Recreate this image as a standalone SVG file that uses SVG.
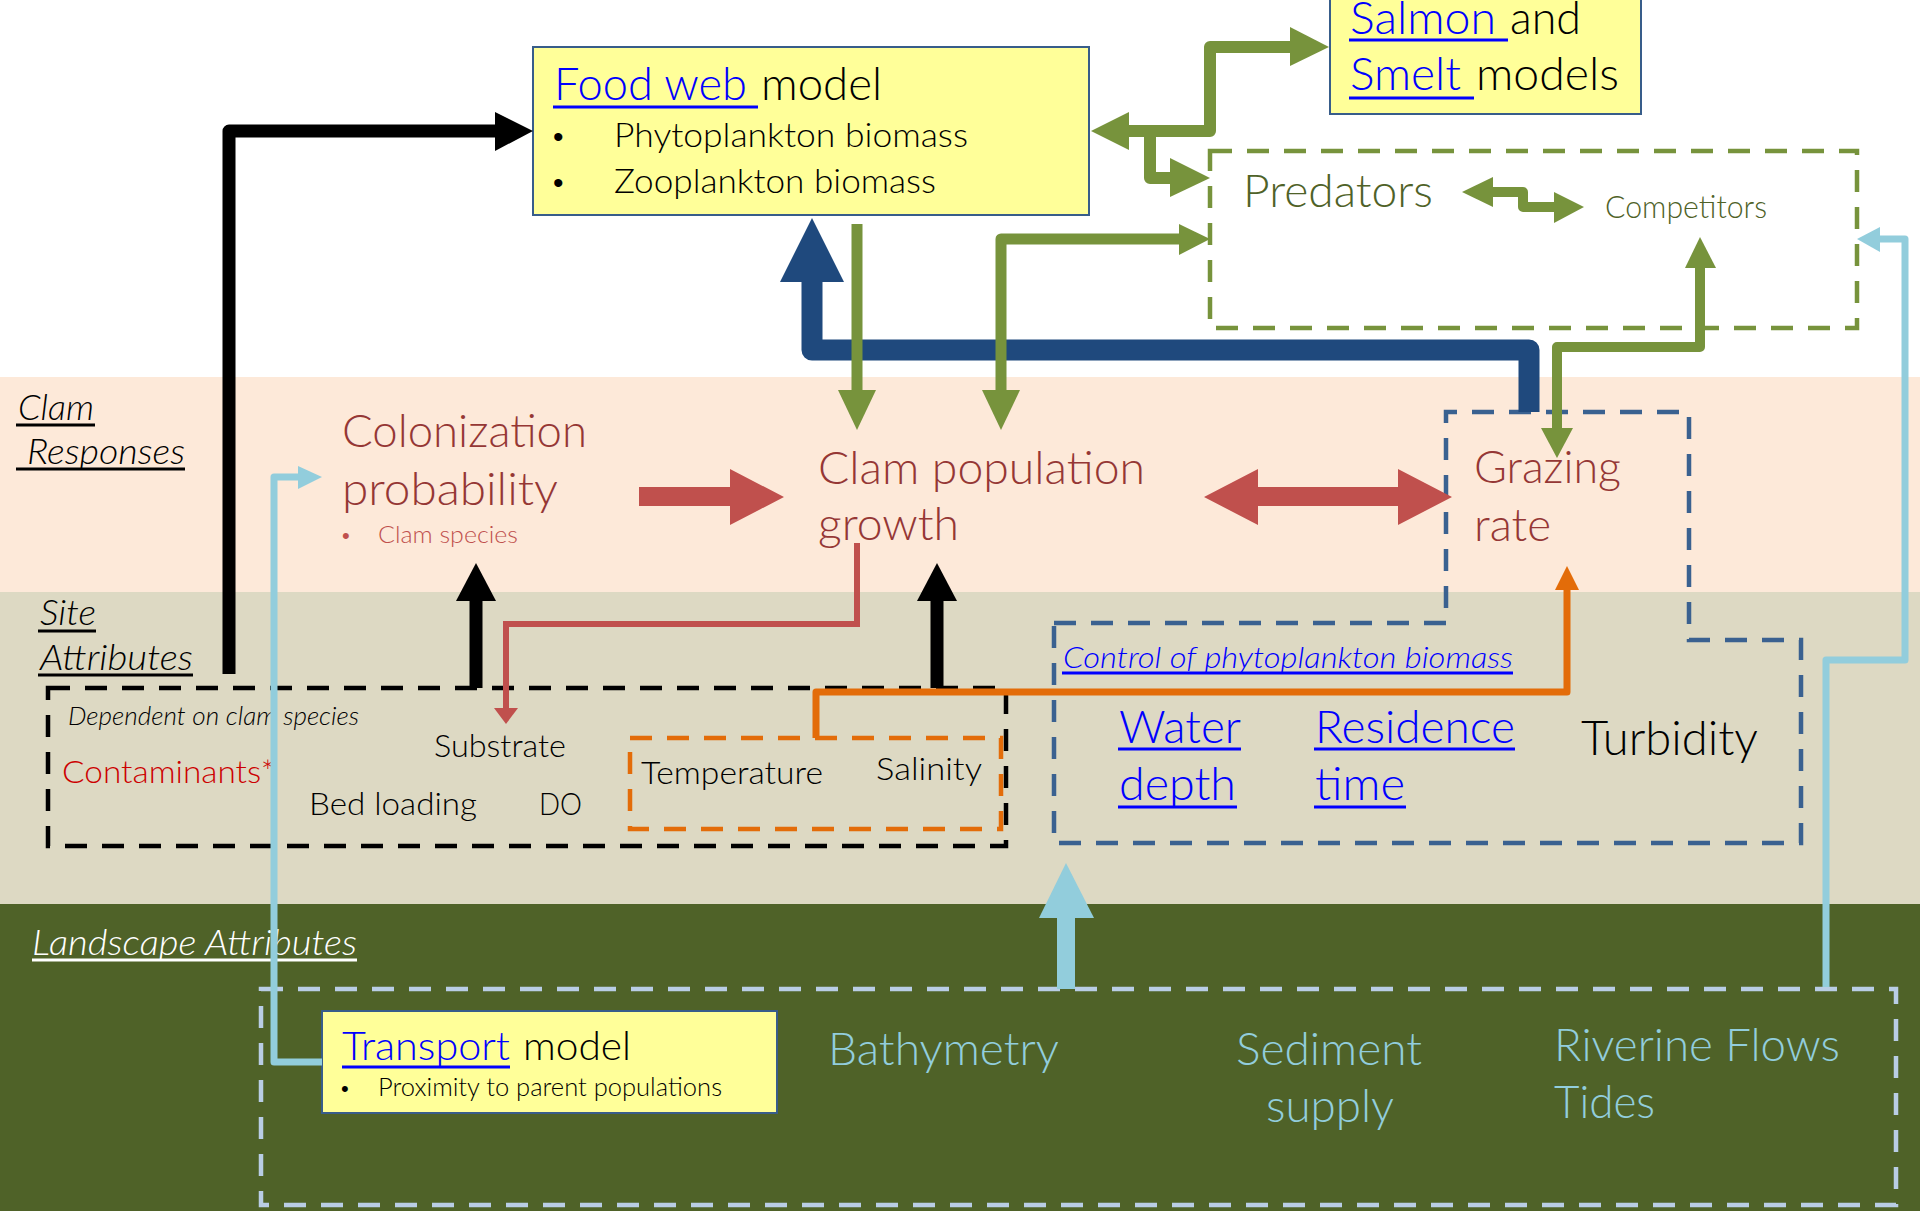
<svg xmlns="http://www.w3.org/2000/svg" width="1920" height="1211" viewBox="0 0 1920 1211">
<style>
.t{font-family:Lato,"Open Sans","Liberation Sans",sans-serif;font-weight:300}
.i{font-style:italic}
.blk{fill:#000}
.lnk{fill:#0000FF}
.red{fill:#953735}
.grn{fill:#4F6228}
.lb{fill:#92CDDC}
.wht{fill:#FFFFFF}
.ul{stroke-width:3}
.model{fill:#FFFF99;stroke:#385D8A;stroke-width:2}
.dash{fill:none;stroke-width:4.5;stroke-dasharray:22 15}
.c-blk{fill:none;stroke:#000;stroke-linejoin:round}
.c-grn{fill:none;stroke:#77933C;stroke-linejoin:round}
.c-red{fill:none;stroke:#C0504D}
.c-org{fill:none;stroke:#E36C09;stroke-linejoin:round}
.c-blu{fill:none;stroke:#1F497D;stroke-linejoin:round}
.c-lb{fill:none;stroke:#92CDDC;stroke-linejoin:round}
.h-blk{fill:#000}
.h-grn{fill:#77933C}
.h-red{fill:#C0504D}
.h-org{fill:#E36C09}
.h-blu{fill:#1F497D}
.h-lb{fill:#92CDDC}
</style>

<g id="background">
<rect x="0" y="0" width="1920" height="377" fill="#FFFFFF"/>
<rect x="0" y="377" width="1920" height="215" fill="#FDE9D9"/>
<rect x="0" y="592" width="1920" height="312" fill="#DDD9C3"/>
<rect x="0" y="904" width="1920" height="307" fill="#4F6228"/>
</g>

<g id="section-labels">
<text class="t i blk" x="18" y="420" font-size="36" textLength="76" lengthAdjust="spacingAndGlyphs">Clam</text>
<line x1="16" y1="425" x2="95" y2="425" stroke="#000" class="ul"/>
<text class="t i blk" x="27" y="464" font-size="36" textLength="158" lengthAdjust="spacingAndGlyphs">Responses</text>
<line x1="16" y1="469" x2="185" y2="469" stroke="#000" class="ul"/>
<text class="t i blk" x="40" y="625" font-size="36" textLength="56" lengthAdjust="spacingAndGlyphs">Site</text>
<line x1="38" y1="631" x2="96" y2="631" stroke="#000" class="ul"/>
<text class="t i blk" x="40" y="670" font-size="36" textLength="153" lengthAdjust="spacingAndGlyphs">Attributes</text>
<line x1="38" y1="675" x2="193" y2="675" stroke="#000" class="ul"/>
<text class="t i wht" x="32" y="955" font-size="36" textLength="325" lengthAdjust="spacingAndGlyphs">Landscape Attributes</text>
<line x1="32" y1="960" x2="357" y2="960" stroke="#FFF" class="ul"/>
</g>

<g id="landscape-box">
<rect x="261" y="989" width="1635" height="216" class="dash" stroke="#B9CDE5"/>
</g>

<g id="site-box">
<rect x="48" y="688" width="958" height="158" class="dash" stroke="#000"/>
<text class="t i blk" x="68" y="725" font-size="26" textLength="291" lengthAdjust="spacingAndGlyphs">Dependent on clam species</text>
<text class="t" x="62" y="783" font-size="32" fill="#CC0000" textLength="213" lengthAdjust="spacingAndGlyphs">Contaminants*</text>
<text class="t blk" x="434" y="757" font-size="31" textLength="132" lengthAdjust="spacingAndGlyphs">Substrate</text>
<text class="t blk" x="309" y="815" font-size="31" textLength="168" lengthAdjust="spacingAndGlyphs">Bed loading</text>
<text class="t blk" x="539" y="815" font-size="31" textLength="43" lengthAdjust="spacingAndGlyphs">DO</text>
</g>

<g id="temp-salinity-box">
<rect x="630" y="738" width="371" height="91" class="dash" stroke="#E36C09"/>
<text class="t blk" x="641" y="784" font-size="32" textLength="182" lengthAdjust="spacingAndGlyphs">Temperature</text>
<text class="t blk" x="876" y="780" font-size="32" textLength="106" lengthAdjust="spacingAndGlyphs">Salinity</text>
</g>

<g id="control-box">
<polygon points="1054,623 1446,623 1446,412 1689,412 1689,640 1801,640 1801,843 1054,843" class="dash" stroke="#3A6190"/>
<text class="t i lnk" x="1063" y="668" font-size="29" textLength="450" lengthAdjust="spacingAndGlyphs">Control of phytoplankton biomass</text>
<line x1="1062" y1="673" x2="1513" y2="673" stroke="#0000FF" class="ul"/>
<text class="t lnk" x="1119" y="743" font-size="46" textLength="122" lengthAdjust="spacingAndGlyphs">Water</text>
<line x1="1118" y1="749" x2="1241" y2="749" stroke="#0000FF" class="ul"/>
<text class="t lnk" x="1119" y="800" font-size="46" textLength="117" lengthAdjust="spacingAndGlyphs">depth</text>
<line x1="1118" y1="807" x2="1237" y2="807" stroke="#0000FF" class="ul"/>
<text class="t lnk" x="1315" y="743" font-size="46" textLength="200" lengthAdjust="spacingAndGlyphs">Residence</text>
<line x1="1314" y1="749" x2="1515" y2="749" stroke="#0000FF" class="ul"/>
<text class="t lnk" x="1315" y="800" font-size="46" textLength="90" lengthAdjust="spacingAndGlyphs">time</text>
<line x1="1314" y1="807" x2="1406" y2="807" stroke="#0000FF" class="ul"/>
<text class="t blk" x="1581" y="755" font-size="48" textLength="177" lengthAdjust="spacingAndGlyphs">Turbidity</text>
</g>

<g id="grazing-rate">
<text class="t red" x="1474" y="483" font-size="46" textLength="147" lengthAdjust="spacingAndGlyphs">Grazing</text>
<text class="t red" x="1474" y="541" font-size="46" textLength="77" lengthAdjust="spacingAndGlyphs">rate</text>
</g>

<g id="colonization">
<text class="t red" x="342" y="447" font-size="45" textLength="245" lengthAdjust="spacingAndGlyphs">Colonization</text>
<text class="t red" x="342" y="505" font-size="45" textLength="216" lengthAdjust="spacingAndGlyphs">probability</text>
<text x="342" y="543" font-size="22" fill="#C0504D" font-family="Liberation Sans,sans-serif">•</text>
<text class="t" x="378" y="543" font-size="24" fill="#C0504D" textLength="140" lengthAdjust="spacingAndGlyphs">Clam species</text>
</g>

<g id="clam-growth">
<text class="t red" x="818" y="484" font-size="46" textLength="327" lengthAdjust="spacingAndGlyphs">Clam population</text>
<text class="t red" x="818" y="540" font-size="46" textLength="141" lengthAdjust="spacingAndGlyphs">growth</text>
</g>

<g id="food-web-model">
<rect x="533" y="47" width="556" height="168" class="model"/>
<text class="t lnk" x="554" y="100" font-size="46" textLength="193" lengthAdjust="spacingAndGlyphs">Food web</text>
<line x1="553" y1="107" x2="758" y2="107" stroke="#0000FF" class="ul"/>
<text class="t blk" x="761" y="100" font-size="46" textLength="121" lengthAdjust="spacingAndGlyphs">model</text>
<text x="553" y="147" font-size="30" fill="#000" font-family="Liberation Sans,sans-serif">•</text>
<text class="t blk" x="614" y="147" font-size="33" textLength="354" lengthAdjust="spacingAndGlyphs">Phytoplankton biomass</text>
<text x="553" y="193" font-size="30" fill="#000" font-family="Liberation Sans,sans-serif">•</text>
<text class="t blk" x="614" y="193" font-size="33" textLength="322" lengthAdjust="spacingAndGlyphs">Zooplankton biomass</text>
</g>

<g id="salmon-smelt-models">
<rect x="1330" y="-5" width="311" height="119" class="model"/>
<text class="t lnk" x="1350" y="34" font-size="46" textLength="146" lengthAdjust="spacingAndGlyphs">Salmon</text>
<line x1="1349" y1="40" x2="1508" y2="40" stroke="#0000FF" class="ul"/>
<text class="t blk" x="1510" y="34" font-size="46" textLength="71" lengthAdjust="spacingAndGlyphs">and</text>
<text class="t lnk" x="1350" y="90" font-size="46" textLength="111" lengthAdjust="spacingAndGlyphs">Smelt</text>
<line x1="1349" y1="98" x2="1474" y2="98" stroke="#0000FF" class="ul"/>
<text class="t blk" x="1476" y="90" font-size="46" textLength="143" lengthAdjust="spacingAndGlyphs">models</text>
</g>

<g id="predators-competitors">
<rect x="1210" y="151" width="647" height="177" class="dash" stroke="#77933C"/>
<text class="t grn" x="1243" y="207" font-size="46" textLength="190" lengthAdjust="spacingAndGlyphs">Predators</text>
<text class="t grn" x="1605" y="218" font-size="32" textLength="162" lengthAdjust="spacingAndGlyphs">Competitors</text>
</g>

<g id="transport-model">
<rect x="322" y="1011" width="455" height="102" class="model"/>
<text class="t lnk" x="342" y="1060" font-size="40" textLength="168" lengthAdjust="spacingAndGlyphs">Transport</text>
<line x1="342" y1="1067" x2="510" y2="1067" stroke="#0000FF" class="ul"/>
<text class="t blk" x="523" y="1060" font-size="40" textLength="108" lengthAdjust="spacingAndGlyphs">model</text>
<text x="341" y="1096" font-size="22" fill="#000" font-family="Liberation Sans,sans-serif">•</text>
<text class="t blk" x="378" y="1096" font-size="25" textLength="344" lengthAdjust="spacingAndGlyphs">Proximity to parent populations</text>
</g>

<g id="landscape-attributes">
<text class="t lb" x="828" y="1065" font-size="46" textLength="231" lengthAdjust="spacingAndGlyphs">Bathymetry</text>
<text class="t lb" x="1236" y="1065" font-size="46" textLength="186" lengthAdjust="spacingAndGlyphs">Sediment</text>
<text class="t lb" x="1266" y="1122" font-size="46" textLength="128" lengthAdjust="spacingAndGlyphs">supply</text>
<text class="t lb" x="1554" y="1061" font-size="46" textLength="286" lengthAdjust="spacingAndGlyphs">Riverine Flows</text>
<text class="t lb" x="1554" y="1118" font-size="46" textLength="101" lengthAdjust="spacingAndGlyphs">Tides</text>
</g>

<g id="connectors">
<!-- black: site attributes -> food web -->
<path d="M229,674 V131 H497" class="c-blk" stroke-width="13"/>
<polygon points="495,112 533,131 495,151" class="h-blk"/>
<!-- black: site -> colonization -->
<path d="M476,688 V598" class="c-blk" stroke-width="13"/>
<polygon points="456,601 476,563 496,601" class="h-blk"/>
<!-- black: site -> clam growth -->
<path d="M937,688 V598" class="c-blk" stroke-width="13"/>
<polygon points="917,601 937,563 957,601" class="h-blk"/>

<!-- red block arrow colonization -> growth -->
<polygon points="639,487 730,487 730,469 784,497 730,525 730,506 639,506" class="h-red"/>
<!-- red double arrow growth <-> grazing -->
<polygon points="1204,497 1258,469 1258,487 1398,487 1398,469 1452,497 1398,525 1398,506 1258,506 1258,525" class="h-red"/>
<!-- red thin: growth -> substrate -->
<path d="M857,543 V624 H506 V710" class="c-red" stroke-width="6"/>
<polygon points="494,708 518,708 506,724" class="h-red"/>

<!-- orange: temperature/salinity -> grazing -->
<path d="M816,738 V692 H1567 V588" class="c-org" stroke-width="7"/>
<polygon points="1555,590 1567,566 1579,590" class="h-org"/>

<!-- blue thick: grazing -> food web -->
<path d="M1529,412 V350 H812 V280" class="c-blu" stroke-width="21"/>
<polygon points="780,282 812,218 844,282" class="h-blu"/>

<!-- green: food web -> clam growth -->
<path d="M857,224 V392" class="c-grn" stroke-width="11"/>
<polygon points="838,390 857,430 876,390" class="h-grn"/>
<!-- green: predators <-> clam growth -->
<path d="M1001,392 V239 H1181" class="c-grn" stroke-width="11"/>
<polygon points="982,390 1001,430 1020,390" class="h-grn"/>
<polygon points="1179,224 1210,239 1179,255" class="h-grn"/>
<!-- green: food web <-> salmon/smelt & predators -->
<path d="M1127,131 H1210 V47 H1292" class="c-grn" stroke-width="12"/>
<path d="M1150,131 V178 H1172" class="c-grn" stroke-width="12"/>
<polygon points="1129,112 1091,131 1129,150" class="h-grn"/>
<polygon points="1290,27 1329,47 1290,66" class="h-grn"/>
<polygon points="1170,158 1210,178 1170,197" class="h-grn"/>
<!-- green: predators <-> competitors -->
<path d="M1491,192 H1523 V207 H1556" class="c-grn" stroke-width="10"/>
<polygon points="1493,177 1462,192 1493,207" class="h-grn"/>
<polygon points="1554,192 1584,207 1554,223" class="h-grn"/>
<!-- green: grazing <-> competitors -->
<path d="M1557,430 V347 H1700 V266" class="c-grn" stroke-width="10"/>
<polygon points="1541,428 1557,458 1573,428" class="h-grn"/>
<polygon points="1685,268 1700,237 1716,268" class="h-grn"/>

<!-- light blue: riverine flows -> predators box -->
<path d="M1826,987 V660 H1905 V239 H1878" class="c-lb" stroke-width="7"/>
<polygon points="1880,227 1857,239 1880,252" class="h-lb"/>
<!-- light blue: transport -> colonization -->
<path d="M322,1062 H274 V477 H300" class="c-lb" stroke-width="7"/>
<polygon points="298,466 322,477 298,489" class="h-lb"/>
<!-- light blue thick: landscape -> control box -->
<path d="M1066,989 V916" class="c-lb" stroke-width="18"/>
<polygon points="1039,918 1066,863 1094,918" class="h-lb"/>
</g>
</svg>
